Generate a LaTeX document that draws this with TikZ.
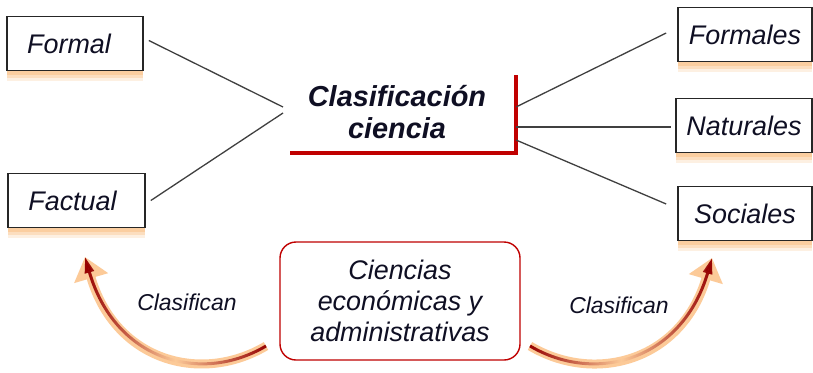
\documentclass[tikz,border=0pt]{standalone}
\usepackage{fontspec}
\setmainfont{Liberation Sans}
\usetikzlibrary{arrows.meta,shadows,fadings}
\definecolor{myred}{RGB}{192,0,0}
\definecolor{shorange}{RGB}{251,196,140}
\definecolor{arrorange}{RGB}{252,202,152}
\definecolor{arrred}{RGB}{150,0,0}
\definecolor{txt}{RGB}{15,15,35}
\tikzfading[name=endsfade, left color=transparent!0, right color=transparent!0, middle color=transparent!100]
\begin{document}
\begin{tikzpicture}[x=1bp,y=-1bp,
  catbox/.style={draw=black!85, line width=1.6bp, fill=white, minimum height=54bp,
    inner sep=0pt, text=txt, font=\fontsize{27}{30}\selectfont\itshape,
    drop shadow={shadow xshift=0bp,shadow yshift=-10bp,fill=shorange,opacity=0.25},
    drop shadow={shadow xshift=0bp,shadow yshift=-7bp,fill=shorange,opacity=0.4},
    drop shadow={shadow xshift=0bp,shadow yshift=-4bp,fill=shorange,opacity=0.6}},
  conn/.style={draw=black!75, line width=1.3bp},
  outerarrow/.style={arrorange, line width=9bp, -{Triangle[length=22bp,width=34bp]}},
  innerarrow/.style={arrred, line width=3bp, path fading=endsfade, -{Triangle[length=16bp,width=9bp]}},
  lbl/.style={text=txt, font=\fontsize{23}{26}\selectfont\itshape}]
\useasboundingbox (0,0) rectangle (813,372);
\fill[white] (0,0) rectangle (813,372);

% category boxes
\node[catbox, minimum width=136bp] (fo) at (75,43.5) {Formal\hspace*{12bp}};
\node[catbox, minimum width=137bp] (fa) at (76.5,200.5) {Factual\hspace*{8bp}};
\node[catbox, minimum width=134bp] (fs) at (745,34.5) {Formales};
\node[catbox, minimum width=136bp] (na) at (744,125.5) {Naturales};
\node[catbox, minimum width=134bp] (so) at (745,213.5) {Sociales};

% central title
\node[text=txt, align=center, font=\fontsize{29}{32}\selectfont\bfseries\itshape] (cc) at (397,112) {Clasificación\\ciencia};
\coordinate (rl) at (290,153);
\coordinate (rt) at (516,75);
\draw[myred, line width=4bp] (rl) -| (rt);

% junction points
\coordinate (jl1) at (283,107);
\coordinate (jl2) at (283,113);
\coordinate (jr1) at (516,107);
\coordinate (jr2) at (516,127);
\coordinate (jr3) at (516,140);

\draw[conn] ([xshift=5bp,yshift=3bp]fo.east) -- (jl1);
\draw[conn] ([xshift=5bp]fa.east) -- (jl2);
\draw[conn] (jr1) -- ([xshift=-11bp,yshift=1.5bp]fs.west);
\draw[conn] (jr2) -- ([xshift=-4bp,yshift=-1.5bp]na.west);
\draw[conn] (jr3) -- ([xshift=-11bp,yshift=9.5bp]so.west);

% bottom box
\node[draw=myred, line width=1.4bp, rounded corners=16bp, minimum width=240bp,
  minimum height=118bp, align=center, text=txt, fill=white,
  font=\fontsize{27}{31}\selectfont\itshape] (ce) at (400,301)
  {Ciencias\\económicas y\\administrativas};

% curved arrows
\coordinate (tl) at (266,346);
\coordinate (hl) at (85,257);
\coordinate (tr) at (530,346);
\coordinate (hr) at (712,258);
\draw[outerarrow] (tl) .. controls (200,385) and (115,360) .. (hl);
\draw[innerarrow] (tl) .. controls (200,385) and (115,360) .. (hl);
\draw[outerarrow] (tr) .. controls (596,385) and (682,360) .. (hr);
\draw[innerarrow] (tr) .. controls (596,385) and (682,360) .. (hr);

\node[lbl] (cl1) at (187,302) {Clasifican};
\node[lbl] (cl2) at (619,305) {Clasifican};
\end{tikzpicture}
\end{document}
